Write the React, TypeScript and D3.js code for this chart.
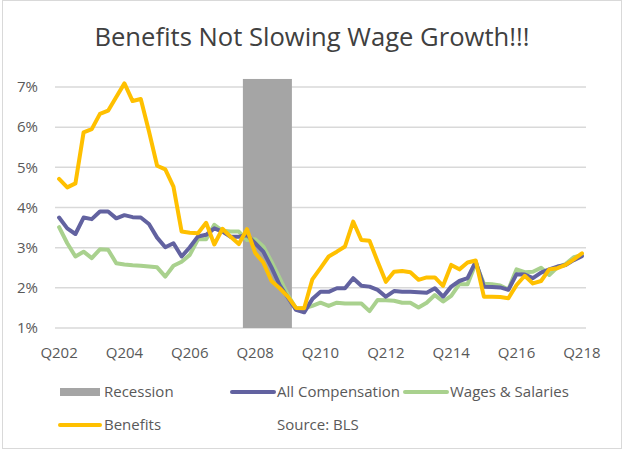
import React from "react";
import * as d3 from "d3";

const quarters: string[] = [];
for (let y = 2002; y <= 2018; y++) {
  for (let q = 1; q <= 4; q++) {
    if ((y === 2002 && q < 2) || (y === 2018 && q > 2)) continue;
    quarters.push(`Q${q} ${y}`);
  }
}
const tickLabels = ["Q202", "Q204", "Q206", "Q208", "Q210", "Q212", "Q214", "Q216", "Q218"];
const tickIndices = [0, 8, 16, 24, 32, 40, 48, 56, 64];

const benefits = [4.71, 4.5, 4.6, 5.87, 5.95, 6.33, 6.41, 6.75, 7.09, 6.65, 6.7,
  5.9, 5.04, 4.95, 4.52, 3.4, 3.37, 3.36, 3.62, 3.08, 3.47,
  3.27, 3.09, 3.46, 2.87, 2.63, 2.17, 1.99, 1.78, 1.5, 1.49,
  2.21, 2.49, 2.78, 2.9, 3.03, 3.65, 3.19, 3.17, 2.65, 2.15,
  2.4, 2.42, 2.39, 2.2, 2.26, 2.26, 2.05, 2.57, 2.46, 2.63,
  2.68, 1.78, 1.78, 1.77, 1.74, 2.07, 2.3, 2.11, 2.17, 2.46,
  2.49, 2.57, 2.71, 2.86];
const compensation = [3.75, 3.48, 3.34, 3.75, 3.71, 3.9, 3.9, 3.73, 3.81, 3.76, 3.75,
  3.59, 3.25, 3.01, 3.11, 2.78, 3.01, 3.28, 3.32, 3.48, 3.4,
  3.27, 3.27, 3.32, 3.11, 2.9, 2.51, 2.07, 1.76, 1.45, 1.39,
  1.72, 1.9, 1.9, 1.99, 1.99, 2.24, 2.05, 2.03, 1.95, 1.78,
  1.92, 1.9, 1.9, 1.89, 1.88, 1.99, 1.78, 2.03, 2.17, 2.24,
  2.65, 2.03, 2.02, 2.01, 1.95, 2.34, 2.33, 2.24, 2.38, 2.46,
  2.53, 2.57, 2.69, 2.79];
const wages = [3.51, 3.11, 2.78, 2.9, 2.74, 2.96, 2.95, 2.61, 2.58, 2.56, 2.55,
  2.53, 2.51, 2.28, 2.55, 2.65, 2.82, 3.21, 3.21, 3.57, 3.42,
  3.4, 3.4, 3.19, 3.21, 3.03, 2.65, 2.24, 1.82, 1.49, 1.49,
  1.55, 1.63, 1.55, 1.63, 1.61, 1.61, 1.61, 1.42, 1.7, 1.69,
  1.68, 1.63, 1.63, 1.51, 1.63, 1.82, 1.66, 1.8, 2.09, 2.09,
  2.61, 2.1, 2.09, 2.06, 1.96, 2.46, 2.39, 2.4, 2.5, 2.32,
  2.51, 2.59, 2.76, 2.81];
const recessionQuarters = ["Q1 2008", "Q2 2008", "Q3 2008", "Q4 2008", "Q1 2009", "Q2 2009"];
const recessionValue = 7.2;
const yTicks = [1, 2, 3, 4, 5, 6, 7];

const FONT = "'Open Sans', sans-serif";

export default function App() {
  const W = 625, H = 452;
  const left = 55, right = 586, top = 87, bottom = 328;
  const x = d3.scaleBand<string>().domain(quarters).range([left, right]).padding(0);
  const y = d3.scaleLinear().domain([1, 7]).range([bottom, top]);
  const cx = (i: number) => (x(quarters[i]) as number) + x.bandwidth() / 2;
  const line = d3.line<number>().x((_, i) => cx(i)).y((d) => y(d));

  const series = [
    { name: "Wages & Salaries", data: wages, color: "#a9d18e" },
    { name: "All Compensation", data: compensation, color: "#6262a0" },
    { name: "Benefits", data: benefits, color: "#ffc000" },
  ];
  const recX0 = x(recessionQuarters[0]) as number;
  const recX1 = (x(recessionQuarters[recessionQuarters.length - 1]) as number) + x.bandwidth();

  return (
    <div style={{ position: "absolute", left: 0, top: 0 }}>
      <svg width={W} height={H} style={{ display: "block", fontFamily: FONT }}>
        <rect x={0} y={0} width={W} height={H} fill="#fff" />
        <rect x={2.5} y={0.5} width={619} height={448} fill="none" stroke="#d9d9d9" />
        <text x={312} y={46} textAnchor="middle" fontSize={25.6} fill="#404040">
          Benefits Not Slowing Wage Growth!!!
        </text>
        {yTicks.map((t) => (
          <g key={t}>
            <line x1={left} x2={right} y1={y(t)} y2={y(t)} stroke="#d9d9d9" strokeWidth={1.5} />
            <text x={38} y={y(t)} dy="0.35em" textAnchor="end" fontSize={15} fill="#595959">
              {t}%
            </text>
          </g>
        ))}
        <rect x={recX0} y={y(recessionValue)} width={recX1 - recX0}
          height={y(1) - y(recessionValue)} fill="#a5a5a5" />
        {series.map((s) => (
          <path key={s.name} d={line(s.data) || ""} fill="none" stroke={s.color}
            strokeWidth={4} strokeLinejoin="round" strokeLinecap="round" />
        ))}
        {tickIndices.map((ti, k) => (
          <text key={k} x={cx(ti)} y={353} dy="0.35em" textAnchor="middle" fontSize={15} fill="#595959">
            {tickLabels[k]}
          </text>
        ))}
        <g fontSize={15} fill="#595959">
          <rect x={60} y={388} width={40} height={8} fill="#a5a5a5" />
          <text x={104} y={392} dy="0.35em">Recession</text>
          <line x1={232} x2={274} y1={392} y2={392} stroke="#6262a0" strokeWidth={4} strokeLinecap="round" />
          <text x={277} y={392} dy="0.35em">All Compensation</text>
          <line x1={405} x2={447} y1={392} y2={392} stroke="#a9d18e" strokeWidth={4} strokeLinecap="round" />
          <text x={450} y={392} dy="0.35em">Wages &amp; Salaries</text>
          <line x1={60} x2={100} y1={425} y2={425} stroke="#ffc000" strokeWidth={4} strokeLinecap="round" />
          <text x={104} y={425} dy="0.35em">Benefits</text>
          <text x={277} y={425} dy="0.35em">Source: BLS</text>
        </g>
      </svg>
    </div>
  );
}
